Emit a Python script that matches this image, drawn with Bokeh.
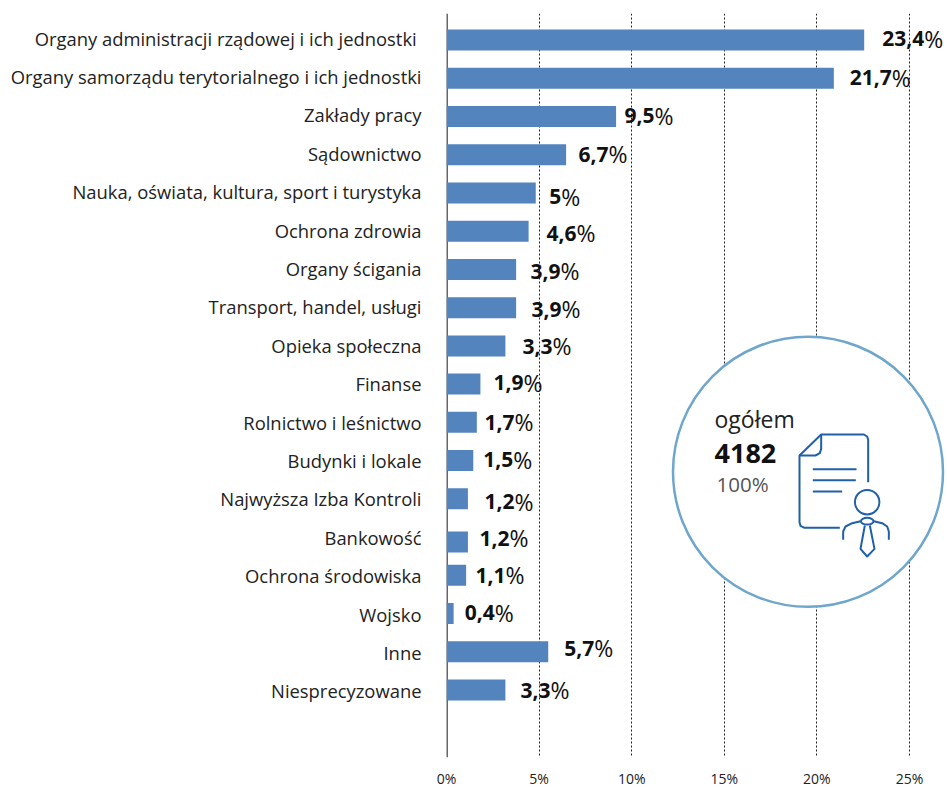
from bokeh.plotting import figure
from bokeh.models import Range1d, FixedTicker, ColumnDataSource, Span
from bokeh.core.properties import value
from bokeh.embed import file_html
from bokeh.resources import INLINE

categories = ["Organy administracji rządowej i ich jednostki\u00a0", "Organy samorządu terytorialnego i ich jednostki",
              "Zakłady pracy", "Sądownictwo", "Nauka, oświata, kultura, sport i turystyka", "Ochrona zdrowia",
              "Organy ścigania", "Transport, handel, usługi", "Opieka społeczna", "Finanse", "Rolnictwo i leśnictwo",
              "Budynki i lokale", "Najwyższa Izba Kontroli", "Bankowość", "Ochrona środowiska", "Wojsko", "Inne",
              "Niesprecyzowane"]
values = [23.4, 21.7, 9.5, 6.7, 5, 4.6, 3.9, 3.9, 3.3, 1.9, 1.7, 1.5, 1.2, 1.2, 1.1, 0.4, 5.7, 3.3]
value_labels = ["23,4", "21,7", "9,5", "6,7", "5", "4,6", "3,9", "3,9", "3,3", "1,9", "1,7", "1,5", "1,2", "1,2", "1,1", "0,4", "5,7", "3,3"]
x_ticks = [0, 5, 10, 15, 20, 25]
x_tick_labels = ["0%", "5%", "10%", "15%", "20%", "25%"]

# hand-placement nudges of the original layout (px)
label_gap = [60, 58, 38.5, 42.5, 25.5, 48, 44.5, 45.5, 47, 43, 37.7, 40, 46.6, 41.6, 39.4, 41, 46, 45]
label_dy = [-1.5, -0.7, -0.7, -0.5, 3.6, 2, 1.6, 1.6, 0.6, -1.6, 0, -0.6, 2.7, 1.1, 0.2, -1, -3.3, 0.5]
bar_dy = [0, 0, 0, 0, 0, 0, 0, 0, 0, 0, 0, 0, 0, 5, 0, 0, 0, 0]

W, H = 947, 787
L, T, B = 446, 13, 757
PPU = 18.52      # axis scale
BAR_PPU = 17.85  # the bars are drawn slightly shorter than the axis scale
ROW0, ROW = 39.5, 38.235

x_max = (W - L) / PPU
y_top = (T - ROW0) / ROW
y_bot = (B - ROW0) / ROW

p = figure(width=W, height=H, frame_width=W - L, frame_height=B - T,
           output_backend="svg", toolbar_location=None,
           x_range=Range1d(0, x_max), y_range=Range1d(y_bot, y_top),
           min_border_left=L, min_border_right=0, min_border_top=T, min_border_bottom=H - B,
           outline_line_color=None)
p.extra_x_ranges["bars"] = Range1d(0, (W - L) / BAR_PPU)

def X(px): return (px - L) / PPU
def Y(py): return (py - ROW0) / ROW

FONT = "Open Sans"
idx = list(range(len(categories)))

p.ygrid.visible = False
p.xgrid.ticker = FixedTicker(ticks=x_ticks[1:])
p.xgrid.grid_line_color = "#222222"
p.xgrid.grid_line_dash = "2 2"
p.xgrid.grid_line_width = 1

p.xaxis.ticker = FixedTicker(ticks=x_ticks)
p.xaxis.major_label_overrides = dict(zip(x_ticks, x_tick_labels))
p.xaxis.axis_line_color = None
p.xaxis.major_tick_line_color = None
p.xaxis.minor_tick_line_color = None
p.xaxis.major_tick_out = 0
p.xaxis.major_tick_in = 0
p.xaxis.major_label_text_font = FONT
p.xaxis.major_label_text_font_size = "14px"
p.xaxis.major_label_text_color = "#222222"
p.xaxis.major_label_standoff = 11

# category labels sit on a slightly tighter row pitch than the bars
label_ticks = [round(i * 38.41 / ROW - 2 / ROW, 3) for i in idx]
p.yaxis.ticker = FixedTicker(ticks=label_ticks)
p.yaxis.major_label_overrides = dict(zip(label_ticks, categories))
p.yaxis.axis_line_color = None
p.yaxis.major_tick_line_color = None
p.yaxis.minor_tick_line_color = None
p.yaxis.major_tick_out = 0
p.yaxis.major_tick_in = 0
p.yaxis.major_label_text_font = FONT
p.yaxis.major_label_text_font_size = "18.4px"
p.yaxis.major_label_text_color = "#222222"
p.yaxis.major_label_standoff = 25

p.add_layout(Span(location=X(446.5), dimension="height", line_color="#000000", line_width=1.2, level="underlay"))

src = ColumnDataSource(dict(y=[i + d / ROW for i, d in zip(idx, bar_dy)], v=values))
p.hbar(y="y", right="v", left=0, height=21 / ROW, source=src, fill_color="#5384BE", line_color=None, x_range_name="bars")

# value labels: bold number + regular percent sign, joined at a point
jx = [v + g / BAR_PPU for v, g in zip(values, label_gap)]
jy = [i + d / ROW for i, d in zip(idx, label_dy)]
lab = ColumnDataSource(dict(x=jx, y=jy, t=value_labels, pct=["%"] * len(values)))
p.text(x="x", y="y", text="t", source=lab, text_font=value(FONT), text_font_style="bold", text_font_size="21px",
       text_align="right", text_baseline="middle", text_color="#111111", x_range_name="bars")
p.text(x="x", y="y", text="pct", source=lab, text_font=value(FONT), text_font_size="23px",
       text_align="left", text_baseline="middle", text_color="#111111", x_range_name="bars")

# total badge
p.scatter([X(807.5)], [Y(471.3)], marker="circle", size=270, fill_color="#FFFFFF", line_color="#6FA6CC", line_width=2.5)
p.text([X(714)], [Y(418.5)], text=["ogółem"], text_font=value(FONT), text_font_size="23px",
       text_align="left", text_baseline="middle", text_color="#222222")
p.text([X(714)], [Y(453)], text=["4182"], text_font=value(FONT), text_font_style="bold", text_font_size="27px",
       text_align="left", text_baseline="middle", text_color="#111111")
p.text([X(716)], [Y(483.5)], text=["100%"], text_font=value(FONT), text_font_size="20.5px",
       text_align="left", text_baseline="middle", text_color="#555555")

# icon, traced in reference zoom units
def zx(z): return X(660 + z / 3)
def zy(z): return Y(330 + z / 3)
ICON = "#1F60A8"
paths = [
    [(623, 455), (623, 328), (620, 318), (610, 312), (482, 312), (417, 375), (417, 575), (420, 586), (432, 592), (538, 592)],
    [(482, 312), (482, 355), (478, 368), (465, 375), (417, 375)],
    [(457, 416), (588, 416)], [(457, 449), (586, 449)], [(457, 483), (545, 483)],
    [(548, 628), (548, 603), (555, 588), (575, 578), (600, 572)],
    [(640, 572), (665, 578), (680, 588), (685, 603), (685, 628)],
    [(613, 585), (600, 655), (620, 678), (642, 655), (628, 585)],
]
for path in paths:
    p.line([zx(a) for a, b in path], [zy(b) for a, b in path], line_color=ICON, line_width=2, line_join="round")
p.scatter([zx(620)], [zy(515)], marker="circle", size=24.5, fill_color=None, line_color=ICON, line_width=2)
p.ellipse([zx(620)], [zy(572)], width=[X(660 + 38 / 3) - X(660)], height=[(20 / 3) / ROW], fill_color=None, line_color=ICON, line_width=2)

open("out.html", "w").write(file_html(p, INLINE))
